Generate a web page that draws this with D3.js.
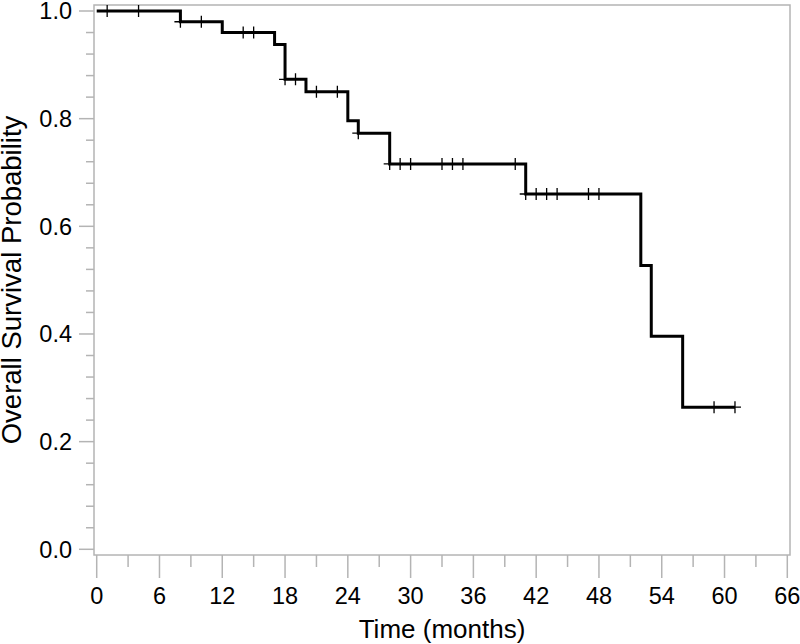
<!DOCTYPE html>
<meta charset="utf-8">
<html>
  <head>
    <script src="https://d3js.org/d3.v7.min.js"></script>
    <title>Overall survival</title>
    <style>
      body { margin: 0; background: white; }
      text { font-family: "Liberation Sans", Arial, Helvetica, sans-serif; fill: #000; }
    </style>
  </head>
  <body>
  <script>

// Kaplan-Meier steps
const step_times = [0, 8, 12, 17, 18, 20, 24, 25, 28, 41, 52, 53, 56],
      step_surv  = [1.0, 0.980, 0.960, 0.938, 0.873, 0.850, 0.796, 0.773, 0.716, 0.660, 0.527, 0.396, 0.264],
      last_time  = 61;

// censored observations (months)
const censor_times = [1, 4, 8, 10, 14, 15, 18, 19, 21, 23, 25, 28, 29, 30, 33, 34, 35, 40,
                      41, 42, 43, 44, 47, 48, 59, 61];

const x_ticks = d3.range(0, 67, 6),
      x_minor = d3.range(3, 66, 6),
      y_ticks = [0, 0.2, 0.4, 0.6, 0.8, 1.0],
      y_minor = d3.range(0, 1.001, 0.04).filter(v => Math.abs(v * 5 - Math.round(v * 5)) > 1e-6);

const width = 800,
      height = 644,
      frame = {left: 94, right: 790, top: 5, bottom: 555},
      grey = '#b4b4b4';

const x = d3.scaleLinear().domain([0, 66]).range([96.7, 787.3]),
      y = d3.scaleLinear().domain([0, 1]).range([549.3, 11]);

const surv_at = t => step_surv[d3.bisectRight(step_times, t) - 1];

const svg = d3.select('body')
  .append('svg')
  .attr('width', width)
  .attr('height', height);

// frame round the plot
svg.append('rect')
  .attr('x', frame.left)
  .attr('y', frame.top)
  .attr('width', frame.right - frame.left)
  .attr('height', frame.bottom - frame.top)
  .style('fill', 'none')
  .style('stroke', grey)
  .style('stroke-width', 1.5);

// x axis
const x_axis = svg.append('g').attr('class', 'x axis');

x_axis.selectAll('line.major')
  .data(x_ticks)
  .enter().append('line')
    .attr('class', 'major')
    .attr('x1', x).attr('x2', x)
    .attr('y1', frame.bottom).attr('y2', frame.bottom + 23)
    .style('stroke', grey).style('stroke-width', 1.5);

x_axis.selectAll('line.minor')
  .data(x_minor)
  .enter().append('line')
    .attr('class', 'minor')
    .attr('x1', x).attr('x2', x)
    .attr('y1', frame.bottom).attr('y2', frame.bottom + 12)
    .style('stroke', grey).style('stroke-width', 1.5);

x_axis.selectAll('text')
  .data(x_ticks)
  .enter().append('text')
    .attr('x', x)
    .attr('y', 604)
    .attr('text-anchor', 'middle')
    .style('font-size', '23.5px')
    .text(d => d);

svg.append('text')
  .attr('x', (frame.left + frame.right) / 2)
  .attr('y', 637.5)
  .attr('text-anchor', 'middle')
  .style('font-size', '26px')
  .text('Time (months)');

// y axis
const y_axis = svg.append('g').attr('class', 'y axis');

y_axis.selectAll('line.major')
  .data(y_ticks)
  .enter().append('line')
    .attr('class', 'major')
    .attr('x1', frame.left - 15).attr('x2', frame.left)
    .attr('y1', y).attr('y2', y)
    .style('stroke', grey).style('stroke-width', 1.5);

y_axis.selectAll('line.minor')
  .data(y_minor)
  .enter().append('line')
    .attr('class', 'minor')
    .attr('x1', frame.left - 8).attr('x2', frame.left)
    .attr('y1', y).attr('y2', y)
    .style('stroke', grey).style('stroke-width', 1.5);

y_axis.selectAll('text')
  .data(y_ticks)
  .enter().append('text')
    .attr('x', 72)
    .attr('y', d => y(d) + 8.4)
    .attr('text-anchor', 'end')
    .style('font-size', '23.5px')
    .text(d3.format('.1f'));

svg.append('text')
  .attr('transform', 'translate(20.5,' + (frame.top + frame.bottom) / 2 + ') rotate(-90)')
  .attr('text-anchor', 'middle')
  .style('font-size', '27.5px')
  .text('Overall Survival Probability');

// survival curve
const curve_data = step_times.map((t, i) => ({t: t, s: step_surv[i]}))
  .concat([{t: last_time, s: step_surv[step_surv.length - 1]}]);

const line = d3.line()
  .x(d => x(d.t))
  .y(d => y(d.s))
  .curve(d3.curveStepAfter);

svg.append('path')
  .datum(curve_data)
  .attr('d', line)
  .style('fill', 'none')
  .style('stroke', '#000')
  .style('stroke-width', 3)
  .style('stroke-linejoin', 'miter');

// censor marks (+)
const censor = svg.append('g')
  .attr('class', 'censors')
  .selectAll('path')
  .data(censor_times)
  .enter().append('path')
    .attr('d', t => {
      const cx = x(t), cy = y(surv_at(t));
      return 'M' + (cx - 6) + ',' + cy + 'H' + (cx + 6) + 'M' + cx + ',' + (cy - 6) + 'V' + (cy + 6);
    })
    .style('fill', 'none')
    .style('stroke', '#000')
    .style('stroke-width', 1.3);

  </script>
  </body>
</html>
